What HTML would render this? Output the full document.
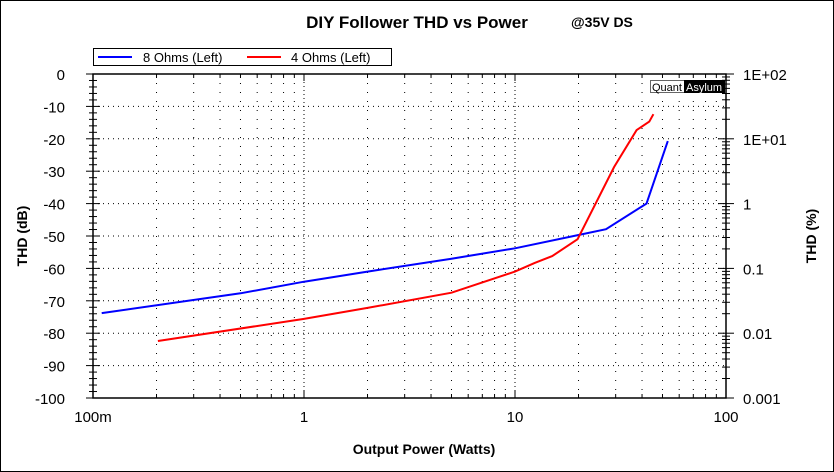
<!DOCTYPE html>
<html><head><meta charset="utf-8"><style>
body{margin:0;background:#fff;}
svg{display:block;font-family:"Liberation Sans",sans-serif;}
</style></head><body>
<svg id="chart" width="834" height="472" viewBox="0 0 834 472">
<rect x="0.5" y="0.5" width="833" height="471" fill="#fff" stroke="#000"/>
<text x="417" y="28" font-size="17" font-weight="bold" text-anchor="middle">DIY Follower THD vs Power</text>
<text x="571" y="27" font-size="14" font-weight="bold">@35V DS</text>
<g>
<rect x="93.5" y="48.5" width="298" height="17" fill="#fff" stroke="#000"/>
<line x1="98" y1="57" x2="132" y2="57" stroke="#00f" stroke-width="2"/>
<text x="143" y="62" font-size="13">8 Ohms (Left)</text>
<line x1="247" y1="57" x2="281" y2="57" stroke="#f00" stroke-width="2"/>
<text x="291" y="62" font-size="13">4 Ohms (Left)</text>
</g>
<g id="grid"></g>
<g id="axes"></g>
<g id="series"></g>
<g>
<rect x="650.5" y="80.5" width="34" height="12" fill="#fff" stroke="#666"/>
<rect x="684" y="80" width="41" height="13" fill="#000"/>
<text x="652" y="91" font-size="11">Quant</text>
<text x="686" y="91" font-size="11" fill="#fff">Asylum</text>
</g>
<text x="424" y="454" font-size="14" font-weight="bold" text-anchor="middle">Output Power (Watts)</text>
<text transform="translate(27,236) rotate(-90)" font-size="14" font-weight="bold" text-anchor="middle">THD (dB)</text>
<text transform="translate(816,236) rotate(-90)" font-size="14" font-weight="bold" text-anchor="middle">THD (%)</text>
</svg>
<script>
const xTickValues=[0.1,1,10,100];
const xTickLabels=["100m","1","10","100"];
const yTickValues=[0,-10,-20,-30,-40,-50,-60,-70,-80,-90,-100];
const rightTickDb=[0,-20,-40,-60,-80,-100];
const rightTickLabels=["1E+02","1E+01","1","0.1","0.01","0.001"];
const power8=[0.11,0.5,1,2,5,10,20,27,42,53];
const thd8=[-73.8,-67.7,-64.1,-61,-57,-53.8,-49.7,-47.9,-40,-20.7];
const power4=[0.203,1,2,5,10,12.4,15,19.8,29.5,37.7,43.3,45.3];
const thd4=[-82.4,-75.6,-72.2,-67.5,-61,-58.3,-56.2,-51,-28.7,-17.3,-14.7,-12.4];

const L=93,R=726,T=74,B=398;
const xs=v=>L+(Math.log10(v)+1)/3*(R-L);
const ys=v=>T+(-v)/100*(B-T);
const NS="http://www.w3.org/2000/svg";
function mk(tag,attrs,parent){const e=document.createElementNS(NS,tag);for(const k in attrs)e.setAttribute(k,attrs[k]);parent.appendChild(e);return e;}
const grid=document.getElementById('grid'),axes=document.getElementById('axes'),series=document.getElementById('series');
for(let d=0.1;d<100;d*=10){for(let m=1;m<10;m++){const v=d*m;const x=xs(v);
 if(m>1||d>0.1){const g=mk('line',{x1:x,y1:T,x2:x,y2:B,stroke:'#000','stroke-width':1,'stroke-dasharray':m===1?'1,3':'1,8'},grid);
 
 }
 const t=mk('line',{x1:x,y1:T,x2:x,y2:T+(m===1?7:4),stroke:'#000'},axes);
 
 
 const tb=mk('line',{x1:x,y1:B,x2:x,y2:B-(m===1?7:4),stroke:'#000'},axes);
 
 }}
yTickValues.forEach(v=>{const y=ys(v);
 if(v<0&&v>-100){const g=mk('line',{x1:L,y1:y,x2:R,y2:y,stroke:'#000','stroke-dasharray':'1,4'},grid);
 
 }
 const t=mk('text',{x:L-28,y:y+6,'font-size':15,'text-anchor':'end'},axes);t.textContent=v;
 
 
 mk('line',{x1:L-7,y1:y,x2:L+7,y2:y,stroke:'#000'},axes);
 for(let k=1;k<5&&v>-100;k++){const yy=ys(v-2*k);mk('line',{x1:L-4,y1:yy,x2:L+4,y2:yy,stroke:'#000'},axes);}
});
rightTickDb.forEach((v,i)=>{const y=ys(v);
 const t=mk('text',{x:R+17,y:y+6,'font-size':15},axes);t.textContent=rightTickLabels[i];
 
 
 mk('line',{x1:R-8,y1:y,x2:R+8,y2:y,stroke:'#000'},axes);
 if(v>-100)for(let m=2;m<10;m++){const yy=ys(v-20+20*Math.log10(m));mk('line',{x1:R-4,y1:yy,x2:R+4,y2:yy,stroke:'#000'},axes);}
});
xTickValues.forEach((v,i)=>{const t=mk('text',{x:xs(v),y:B+24,'font-size':15,'text-anchor':'middle'},axes);t.textContent=xTickLabels[i];
 
 });
const frame=mk('rect',{x:L,y:T,width:R-L,height:B-T,fill:'none',stroke:'#000','stroke-width':1.5},axes);


function line(p,t,c,name){const pts=p.map((v,i)=>xs(v).toFixed(1)+','+ys(t[i]).toFixed(1)).join(' ');
 const e=mk('polyline',{points:pts,fill:'none',stroke:c,'stroke-width':2},series);
 
 }
line(power8,thd8,'#00f','series-8-ohms');
line(power4,thd4,'#f00','series-4-ohms');
</script>
</body></html>
